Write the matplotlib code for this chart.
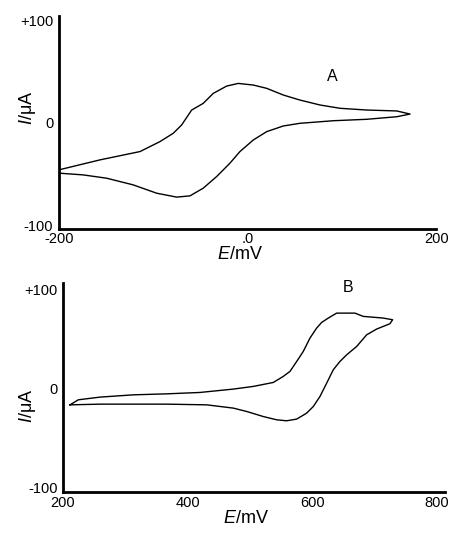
import matplotlib
matplotlib.use('Agg')
import matplotlib.pyplot as plt

plt.rcParams['font.family'] = ['Liberation Sans', 'DejaVu Sans']
plt.rcParams['mathtext.fontset'] = 'custom'
plt.rcParams['mathtext.it'] = 'Liberation Sans:italic'
plt.rcParams['mathtext.rm'] = 'Liberation Sans'

# panel A: cyclic voltammogram (E in mV, I in uA)
a_fwd_E = [-200, -156.5, -114, -92.8, -78.7, -69.8, -59.2, -46.9, -36.3, -22.1,
           -9.8, 6.2, 20.4, 38, 55.7, 76.9, 98.1, 126.5, 158.3, 172.4]
a_fwd_I = [-45.6, -35.9, -27.8, -18.1, -10, -1.9, 12.6, 19.1, 28.8, 35.9,
           38.5, 36.9, 33.7, 27.2, 22.3, 17.5, 14.3, 12.6, 11.7, 8.7]
a_rev_E = [172.4, 158.3, 126.5, 91, 55.7, 38, 20.4, 6.2, -8, -18.6, -32.7,
           -46.9, -61, -75.1, -96.3, -121.2, -149.4, -174.2, -200]
a_rev_I = [8.7, 6.1, 3.6, 2.2, -0.3, -2.9, -8.4, -16.5, -27.8, -39.1, -52.1,
           -63.4, -70.9, -72.1, -68.3, -60.2, -53.7, -50.5, -48.8]

# panel B
b_fwd_E = [211.2, 224.6, 259.4, 312.9, 366.4, 419.9, 473.4, 505.5, 537.6, 553.6,
           564.3, 569.7, 577.7, 585.7, 596.5, 607.2, 615.2, 625.9, 639.3, 668.7,
           682, 714.1, 729.2]
b_fwd_I = [-16.2, -11.1, -8.4, -6.1, -5.1, -3.7, -0.3, 2.4, 6.4, 12.5,
           17.5, 22.5, 30, 37.7, 51.2, 61.3, 67, 71.4, 76.4, 76.4,
           73.1, 71.4, 69.7]
b_rev_E = [729.2, 724.9, 703.5, 687.5, 671.4, 655.4, 644.6, 633.9, 623.3, 612.5,
           601.8, 591.1, 575.1, 559, 543, 521.5, 494.9, 473.4, 430.7, 366.4,
           312.9, 259.4, 211.2]
b_rev_I = [69.7, 65.7, 60.3, 54.5, 42.7, 34.3, 27.6, 19.2, 5.7, -7.8,
           -17.9, -24.6, -30.6, -32.3, -31.3, -28, -22.9, -19.5, -16.2, -15.5,
           -15.5, -15.5, -16.2]

y_ticks = [-100, 0, 100]
y_labels = ['-100', '0', '+100']

fig = plt.figure(figsize=(4.6, 5.36), dpi=100)
axA = fig.add_axes([0.128, 0.573, 0.820, 0.397])
axB = fig.add_axes([0.137, 0.083, 0.830, 0.389])


def style(ax, xpad):
    for s in ['top', 'right']:
        ax.spines[s].set_visible(False)
    for s in ['left', 'bottom']:
        ax.spines[s].set_linewidth(2)
    ax.tick_params(length=0, labelsize=10.5)
    ax.tick_params(axis='y', pad=4)
    ax.tick_params(axis='x', pad=xpad)
    ax.set_yticks(y_ticks)
    ax.set_yticklabels(y_labels)


axA.plot(a_fwd_E + a_rev_E, a_fwd_I + a_rev_I, color='black', lw=1)
axA.set_xlim(-200, 200)
axA.set_ylim(-103, 104)
style(axA, 2)
axA.set_xticks([-200, 0, 200])
axA.set_xticklabels(['-200', '.0', '200'])
axA.set_xlabel(r'$E$/mV', fontsize=13)
axA.set_ylabel(r'$I$/μA', fontsize=13)
axA.xaxis.set_label_coords(0.48, -0.082)
axA.yaxis.set_label_coords(-0.056, 0.568)
axA.text(90, 45, 'A', fontsize=11.5, ha='center', va='center')

axB.plot(b_fwd_E + b_rev_E, b_fwd_I + b_rev_I, color='black', lw=1)
axB.set_xlim(200, 813)
axB.set_ylim(-103.7, 106.8)
style(axB, 3)
axB.set_xticks([200, 400, 600, 800])
axB.set_xlabel(r'$E$/mV', fontsize=13)
axB.set_ylabel(r'$I$/μA', fontsize=13)
axB.xaxis.set_label_coords(0.479, -0.088)
axB.yaxis.set_label_coords(-0.065, 0.41)
axB.text(657, 102, 'B', fontsize=11.5, ha='center', va='center')

plt.savefig('out.png', dpi=100)
